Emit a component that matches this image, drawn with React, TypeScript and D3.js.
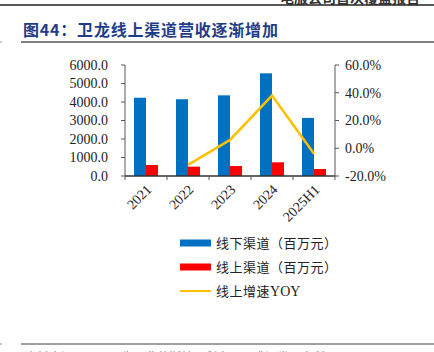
import React from "react";
import * as d3 from "d3";

const categories = ["2021", "2022", "2023", "2024", "2025H1"];
const offline = [4230, 4150, 4360, 5550, 3140];
const online = [595, 505, 540, 740, 378];
const yoy = [null, -12, 6, 38, -4];
const leftTicks = [0, 1000, 2000, 3000, 4000, 5000, 6000];
const rightTicks = [-20, 0, 20, 40, 60];

const BLUE = "#0070C0";
const RED = "#FF0000";
const YELLOW = "#FFC000";
const AXIS = "#595959";
const SERIF = "'Liberation Serif', 'Times New Roman', serif";
const CJK = "'Noto Sans CJK SC', sans-serif";

const App = () => {
  const width = 434;
  const height = 352;
  const left = 125;
  const right = 335;
  const top = 65;
  const bottom = 176;

  const x = d3.scaleBand().domain(categories).range([left, right]);
  const yL = d3.scaleLinear().domain([0, 6000]).range([bottom, top]);
  const yR = d3.scaleLinear().domain([-20, 60]).range([bottom, top]);
  const barW = 12;

  const linePts = categories
    .map((c, i) => ({ c, v: yoy[i] }))
    .filter((d) => d.v !== null) as { c: string; v: number }[];
  const line = d3
    .line<{ c: string; v: number }>()
    .x((d) => x(d.c)! + x.bandwidth() / 2)
    .y((d) => yR(d.v));

  const legend = [
    { label: "线下渠道（百万元）", latin: "", color: BLUE, kind: "bar", y: 243 },
    { label: "线上渠道（百万元）", latin: "", color: RED, kind: "bar", y: 267 },
    { label: "线上增速", latin: "YOY", color: YELLOW, kind: "line", y: 291 },
  ];

  return (
    <svg
      width={width}
      height={height}
      style={{ position: "absolute", left: 0, top: 0, background: "#fff" }}
    >
      {/* page header fragment */}
      <text
        x={420}
        y={3}
        textAnchor="end"
        fontFamily={CJK}
        fontWeight="bold"
        fontSize={14}
        fill="#333"
      >
        电服公司首次覆盖报告
      </text>
      <line x1={0} x2={width} y1={5} y2={5} stroke="#222" strokeWidth={1.5} />

      {/* title */}
      <text
        x={23}
        y={36}
        fontFamily={CJK}
        fontWeight="bold"
        fontSize={16}
        letterSpacing={0.8}
        fill="#1F3C88"
      >
        图44：卫龙线上渠道营收逐渐增加
      </text>
      <line x1={0} x2={2} y1={42} y2={42} stroke="#999" strokeWidth={1} />
      <line x1={21} x2={width} y1={42} y2={42} stroke="#808080" strokeWidth={2} />

      {/* bars */}
      {categories.map((c, i) => {
        const cx = x(c)! + x.bandwidth() / 2;
        return (
          <g key={c}>
            <rect
              x={cx - barW}
              y={yL(offline[i])}
              width={barW}
              height={bottom - yL(offline[i])}
              fill={BLUE}
            />
            <rect
              x={cx}
              y={yL(online[i])}
              width={barW}
              height={bottom - yL(online[i])}
              fill={RED}
            />
          </g>
        );
      })}

      {/* left axis */}
      <line x1={left} x2={left} y1={top} y2={bottom} stroke={AXIS} />
      {leftTicks.map((t) => (
        <g key={t}>
          <line x1={left - 4} x2={left} y1={yL(t)} y2={yL(t)} stroke={AXIS} />
          <text
            x={108}
            y={yL(t)}
            dy="0.35em"
            textAnchor="end"
            fontFamily={SERIF}
            fontSize={14}
            fill="#222"
          >
            {t.toFixed(1)}
          </text>
        </g>
      ))}

      {/* right axis */}
      <line x1={right} x2={right} y1={top} y2={bottom} stroke={AXIS} />
      {rightTicks.map((t) => (
        <g key={t}>
          <line x1={right} x2={right + 4} y1={yR(t)} y2={yR(t)} stroke={AXIS} />
          <text
            x={345}
            y={yR(t)}
            dy="0.35em"
            fontFamily={SERIF}
            fontSize={14}
            fill="#222"
          >
            {t.toFixed(1)}%
          </text>
        </g>
      ))}

      {/* bottom axis */}
      <line x1={left} x2={right} y1={bottom} y2={bottom} stroke="#333" strokeWidth={1.5} />
      {categories.map((c) => (
        <line
          key={c}
          x1={x(c)!}
          x2={x(c)!}
          y1={bottom}
          y2={bottom + 4}
          stroke={AXIS}
        />
      ))}
      <line x1={right} x2={right} y1={bottom} y2={bottom + 4} stroke={AXIS} />
      {categories.map((c) => (
        <text
          key={c}
          transform={`translate(${x(c)! + x.bandwidth() / 2 + 3},${bottom + 11}) rotate(-45)`}
          textAnchor="end"
          dy="0.35em"
          fontFamily={SERIF}
          fontSize={14}
          fill="#222"
        >
          {c}
        </text>
      ))}

      {/* yoy line */}
      <path d={line(linePts)!} fill="none" stroke={YELLOW} strokeWidth={2.5} />

      {/* legend */}
      {legend.map((l) => (
        <g key={l.label}>
          {l.kind === "bar" ? (
            <rect x={180} y={l.y - 3.5} width={31} height={7} fill={l.color} />
          ) : (
            <line x1={180} x2={211} y1={l.y} y2={l.y} stroke={l.color} strokeWidth={2} />
          )}
          <text
            x={216}
            y={l.y}
            dy="0.35em"
            fontFamily={CJK}
            fontSize={13}
            letterSpacing={0.5}
            fill="#222"
          >
            {l.label}
            {l.latin && (
              <tspan fontFamily={SERIF} fontSize={14} letterSpacing={0}>
                {l.latin}
              </tspan>
            )}
          </text>
        </g>
      ))}

      {/* footer */}
      <line x1={0} x2={2} y1={344} y2={344} stroke="#999" />
      <line x1={21} x2={width} y1={344} y2={344} stroke="#808080" strokeWidth={1.5} />
      <text x={25} y={362} fontFamily={CJK} fontSize={12} fill="#888">
        资料来源：公司公告，弗若斯特沙利文，国盛证券研究所
      </text>
    </svg>
  );
};

export default App;
